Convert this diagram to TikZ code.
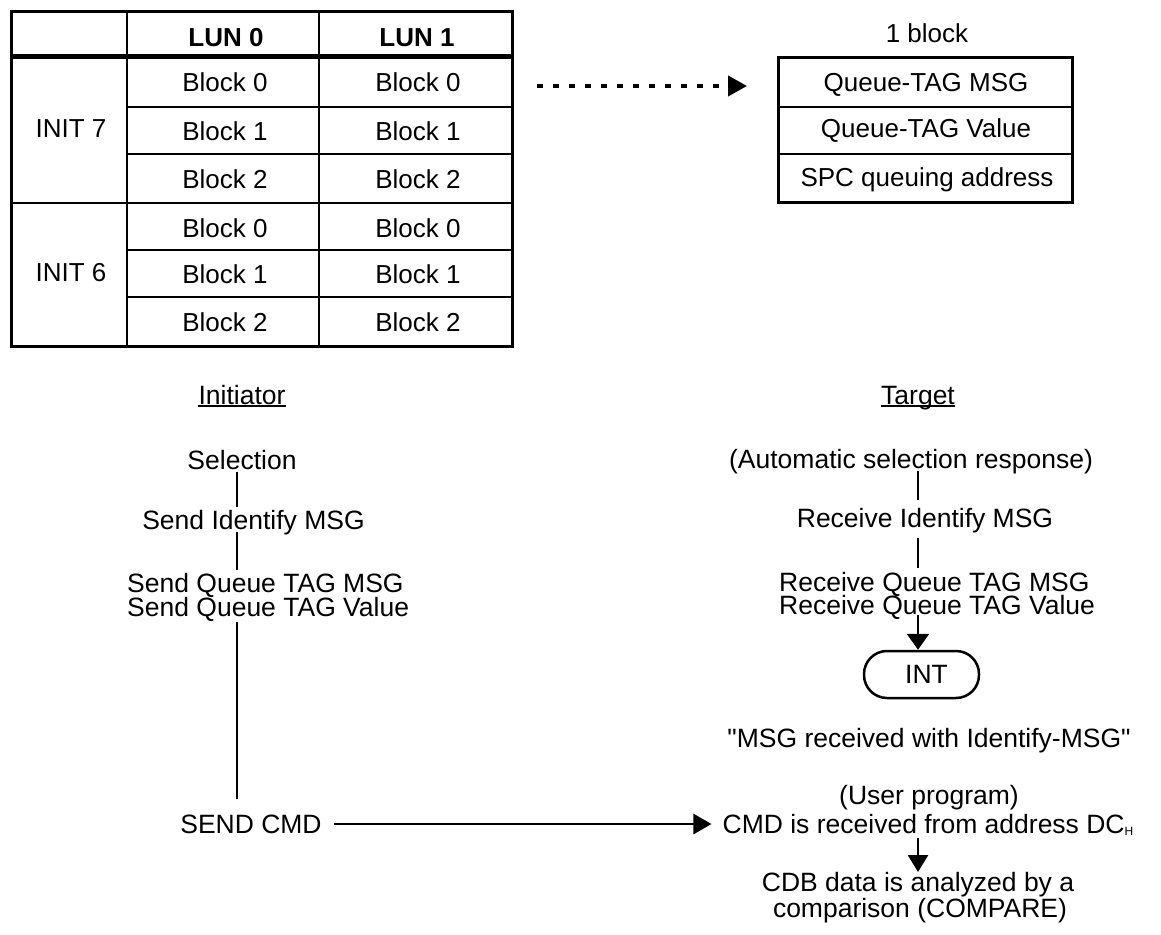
\documentclass[tikz,border=0pt]{standalone}
\usepackage{fontspec}
\setmainfont{Liberation Sans}
\usetikzlibrary{arrows.meta,calc}
\begin{document}
\begin{tikzpicture}[x=1pt,y=-1pt,
  txt/.style={font=\fontsize{26.5}{28}\selectfont, inner sep=0pt, anchor=base},
  tbl/.style={font=\fontsize{26}{28}\selectfont, inner sep=0pt, anchor=base},
  hdr/.style={font=\fontsize{26}{28}\selectfont\bfseries, inner sep=0pt, anchor=base},
  frame/.style={line width=3pt},
  gridline/.style={line width=2.6pt},
  flow/.style={line width=2.8pt},
  arr/.style={line width=2.8pt, -{Triangle[length=18pt,width=20pt]}},
  dotarr/.style={line width=4pt, dash pattern=on 6pt off 10pt, -{Triangle[length=19pt,width=20pt]}},
  ul/.style={line width=2pt},
]
\useasboundingbox (0,0) rectangle (1161,934);

% ---------- table ----------
\draw[frame] (11,12) rectangle (512,346);
\draw[gridline] (127,12) -- (127,346);
\draw[gridline] (319,12) -- (319,346);
\draw[line width=5pt] (11,57) -- (512,57);
\draw[gridline] (127,107) -- (512,107);
\draw[gridline] (127,154) -- (512,154);
\draw[gridline] (11,203) -- (512,203);
\draw[gridline] (127,250) -- (512,250);
\draw[gridline] (127,297) -- (512,297);

\node[hdr] (l0) at (226,47) {LUN 0};
\node[hdr] (l1) at (417,47) {LUN 1};
\node[tbl] (i7) at (71,137.5) {INIT 7};
\node[tbl] (i6) at (71,281.5) {INIT 6};
\foreach \y/\b [count=\i] in {92/0,140/1,188/2,237/0,283/1,331/2} {
  \node[tbl] (a\i) at (225,\y) {Block \b};
  \node[tbl] (b\i) at (418,\y) {Block \b};
}

% ---------- one block ----------
\node[tbl] (oneblock) at (927,42.5) {1 block};
\draw[frame] (778,58) rectangle (1072,202);
\draw[gridline] (778,107) -- (1072,107);
\draw[gridline] (778,154) -- (1072,154);
\node[tbl] (qtm) at (926,91.5) {Queue-TAG MSG};
\node[tbl] (qtv) at (926,137.5) {Queue-TAG Value};
\node[tbl] (spc) at (927,186.5) {SPC queuing address};

\coordinate (ds) at (537,86);
\coordinate (de) at (747,86);
\draw[dotarr] (ds) -- (de);

% ---------- headings ----------
\node[txt] (ini) at (242,404.5) {Initiator};
\draw[ul] ($(ini.base west)+(0,1.5)$) -- ($(ini.base east)+(0,1.5)$);
\node[txt] (tgt) at (918,404.5) {Target};
\draw[ul] ($(tgt.base west)+(0,1.5)$) -- ($(tgt.base east)+(0,1.5)$);

% ---------- initiator flow ----------
\node[txt] (sel) at (242,469.5) {Selection};
\node[txt] (sid) at (253.5,529.5) {Send Identify MSG};
\node[txt, anchor=base west] (sq1) at (127,592.5) {Send Queue TAG MSG};
\node[txt, anchor=base west] (sq2) at (127,616.5) {Send Queue TAG Value};
\node[txt] (sc) at (251,833.5) {SEND CMD};

% ---------- target flow ----------
\node[txt] (auto) at (911,468.5) {(Automatic selection response)};
\node[txt] (rid) at (925,527.5) {Receive Identify MSG};
\node[txt, anchor=base west] (rq1) at (779,591.5) {Receive Queue TAG MSG};
\node[txt, anchor=base west] (rq2) at (779,614.5) {Receive Queue TAG Value};
\node[draw, line width=2.5pt, rounded corners=23pt, minimum width=115pt,
      minimum height=47pt, inner sep=0pt, font=\fontsize{26.5}{28}\selectfont]
      (int) at (921.5,674.5) {\hspace{10pt}INT};
\node[txt] (msg) at (929,747.5) {\textquotedbl MSG received with Identify-MSG\textquotedbl};
\node[txt] (up) at (929,804.5) {(User program)};
\node[txt] (cmd) at (928,833.5) {CMD is received from address DC\raisebox{-1.5pt}{\fontsize{12}{12}\selectfont H}};
\node[txt] (cdb1) at (918,891.5) {CDB data is analyzed by a};
\node[txt] (cdb2) at (920,917.5) {comparison (COMPARE)};

% ---------- connectors ----------
\coordinate (ix) at (237,0);
\coordinate (tx) at (918,0);
\draw[flow] ($(sel.base -| ix)+(0,2.5)$) -- ($(sid.base -| ix)+(0,-22.5)$);
\draw[flow] ($(sid.base -| ix)+(0,2.5)$) -- ($(sq1.base -| ix)+(0,-22.5)$);
\draw[flow] ($(sq2.base -| ix)+(0,5.5)$) -- ($(sc.base -| ix)+(0,-34.5)$);
\draw[arr] ($(sc.base east)+(12,-9.5)$) -- ($(cmd.base west)+(-11,-9.5)$);

\draw[flow] ($(auto.base -| tx)+(0,2)$) -- ($(rid.base -| tx)+(0,-27.5)$);
\draw[flow] ($(rid.base -| tx)+(0,10.5)$) -- ($(rq1.base -| tx)+(0,-23.5)$);
\draw[line width=2.8pt, -{Triangle[length=16pt,width=22pt]}] ($(rq2.base -| tx)+(0,0.5)$) -- (int.north -| tx);
\draw[line width=2.8pt, -{Triangle[length=17pt,width=20pt]}] ($(cmd.base -| tx)+(0,4.5)$) -- ($(cdb1.base -| tx)+(0,-19.5)$);
\end{tikzpicture}
\end{document}
